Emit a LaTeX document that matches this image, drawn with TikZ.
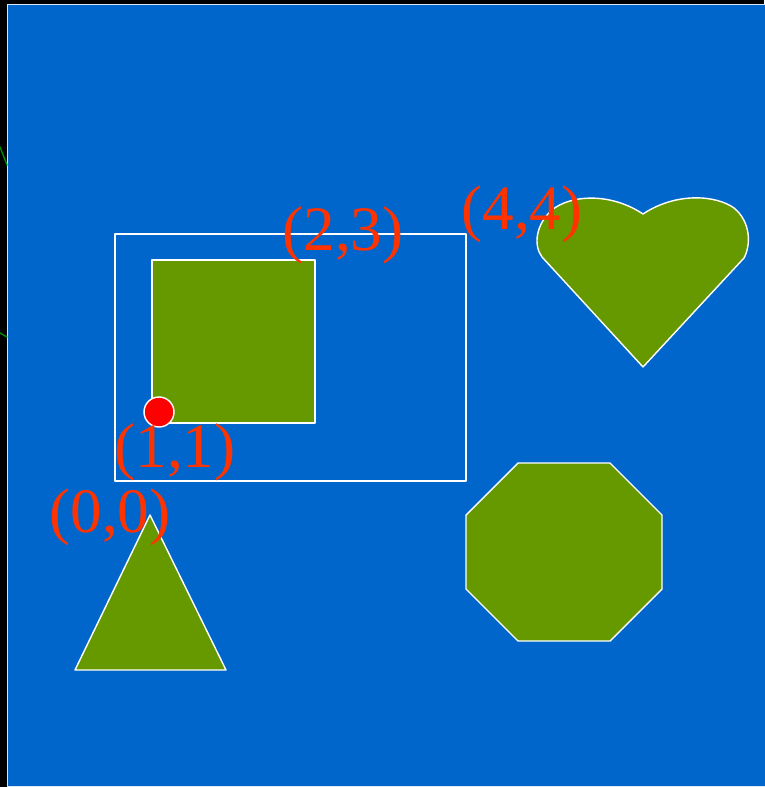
\documentclass[tikz,border=0pt]{standalone}
\usepackage{fontspec}
\setmainfont{Liberation Serif}
\definecolor{bgblue}{HTML}{0066CC}
\definecolor{shapegreen}{HTML}{669900}
\definecolor{labelred}{HTML}{FF3300}
\begin{document}
\begin{tikzpicture}[x=0.02cm, y=-0.02cm, line join=round, line cap=round,
  greenshape/.style={fill=shapegreen, draw=white, line width=0.8pt},
  lbl/.style={text=labelred, anchor=base west, inner sep=0pt, font=\fontsize{36}{40}\selectfont}];
\useasboundingbox (0,0) rectangle (764,787);
\fill[black] (0,0) rectangle (764,787);
\draw[fill=bgblue, draw=white!85!bgblue, line width=0.5pt] (7.5,4.5) rectangle (770,786.5);
\draw[green!55!black, line width=0.8pt] (0,147)--(7,165) (0,333)--(7,337);
% frame and square
\draw[white, line width=0.8pt] (115,234) rectangle (466,481);
\draw[greenshape] (152,260) rectangle (315,423);
\draw[fill=red, draw=white, line width=0.8pt] (159,412) circle (15);
% triangle, octagon, heart
\draw[greenshape] (75,670)--(226,670)--(150,515)--cycle;
\draw[greenshape] (518,463)--(610,463)--(662,515)--(662,589)--(610,641)--(518,641)--(466,589)--(466,515)--cycle;
\draw[greenshape] (643,367)--(542,257) .. controls (533,245) and (536,224) .. (552,210)
  .. controls (570,195) and (610,192) .. (643,214)
  .. controls (676,192) and (716,195) .. (734,208)
  .. controls (751,222) and (751,245) .. (744,258)--cycle;
% labels
\node[lbl] (p23) at (282,250) {(2,3)};
\node[lbl] (p44) at (461,230) {(4,4)};
\node[lbl] (p11) at (114,467) {(1,1)};
\node[lbl] (p00) at (49,532) {(0,0)};
\end{tikzpicture}
\end{document}
